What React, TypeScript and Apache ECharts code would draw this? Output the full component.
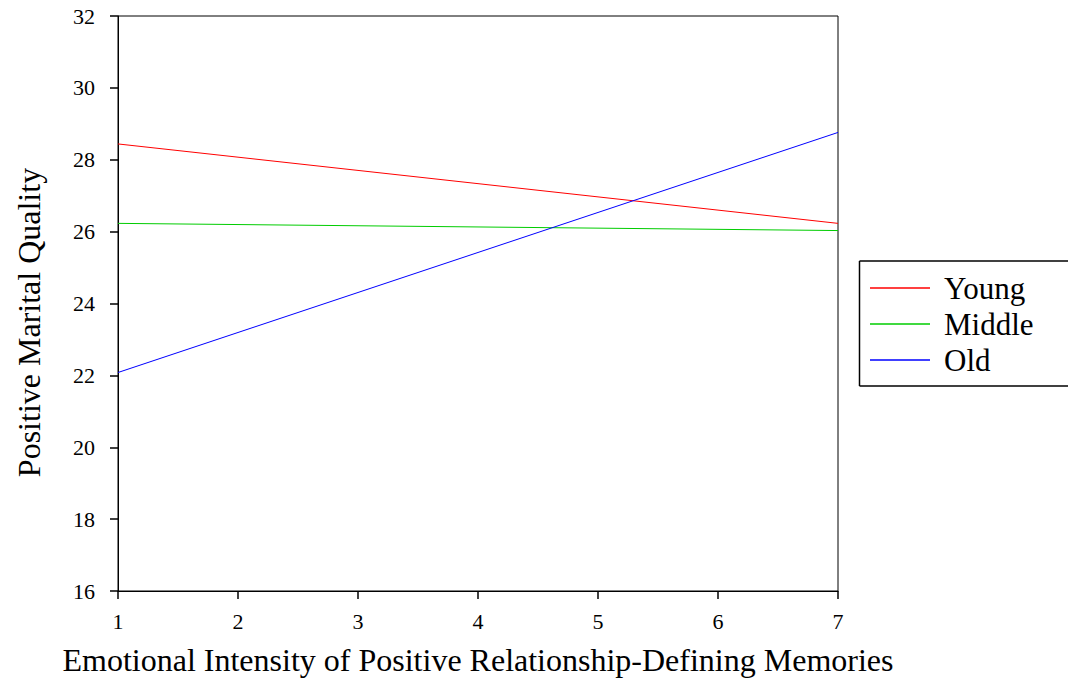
import React, { useEffect, useRef } from "react";
import * as echarts from "echarts";

const xValues = [1, 7];
const seriesNames = ["Young", "Middle", "Old"];
const youngValues = [28.44, 26.23];
const middleValues = [26.23, 26.03];
const oldValues = [22.08, 28.76];
const colors = ["#ff0000", "#00cc00", "#0000ff"];

const FONT = "Liberation Serif";

export default function App() {
  const ref = useRef<HTMLDivElement>(null);
  useEffect(() => {
    if (!ref.current) return;
    const chart = echarts.init(ref.current, undefined, { renderer: "svg" });
    const allValues = [youngValues, middleValues, oldValues];
    chart.setOption({
      animation: false,
      backgroundColor: "#ffffff",
      textStyle: { fontFamily: FONT },
      grid: {
        left: 118,
        right: 230,
        top: 16,
        bottom: 94,
        show: true,
        borderColor: "#000",
        borderWidth: 1,
        backgroundColor: "transparent",
      },
      graphic: [
        {
          type: "line",
          shape: { x1: 859.5, y1: 261, x2: 1090, y2: 261 },
          style: { stroke: "#000", lineWidth: 1.5 },
          silent: true,
        },
        {
          type: "line",
          shape: { x1: 859.5, y1: 386, x2: 1090, y2: 386 },
          style: { stroke: "#000", lineWidth: 1.5 },
          silent: true,
        },
        {
          type: "line",
          shape: { x1: 859.5, y1: 261, x2: 859.5, y2: 386 },
          style: { stroke: "#000", lineWidth: 1.5 },
          silent: true,
        },
      ],
      legend: {
        orient: "vertical",
        left: 859,
        top: 261,
        data: seriesNames,
        icon: "rect",
        itemWidth: 60,
        itemHeight: 1.5,
        itemGap: 0,
        padding: [9, 20, 8, 11],
        borderWidth: 0,
        textStyle: {
          fontFamily: FONT,
          fontSize: 31,
          color: "#000",
          lineHeight: 36,
          padding: [0, 0, 0, 9],
        },
      },
      xAxis: {
        type: "value",
        min: 1,
        max: 7,
        interval: 1,
        name: "Emotional Intensity of Positive Relationship-Defining Memories",
        nameLocation: "middle",
        nameGap: 53,
        nameTextStyle: { fontFamily: FONT, fontSize: 32, color: "#000" },
        axisLine: { show: true, lineStyle: { color: "#000", width: 1 } },
        axisTick: { show: true, length: 8, inside: false, lineStyle: { color: "#000", width: 1.5 } },
        axisLabel: { fontFamily: FONT, fontSize: 22, color: "#000", margin: 19 },
        splitLine: { show: false },
      },
      yAxis: {
        type: "value",
        min: 16,
        max: 32,
        interval: 2,
        name: "Positive Marital Quality",
        nameLocation: "middle",
        nameRotate: 90,
        nameGap: 73,
        nameTextStyle: { fontFamily: FONT, fontSize: 32, color: "#000", padding: [0, 38, 0, 0] },
        axisLine: { show: true, lineStyle: { color: "#000", width: 1 } },
        axisTick: { show: true, length: 8, inside: false, lineStyle: { color: "#000", width: 1.5 } },
        axisLabel: { fontFamily: FONT, fontSize: 22, color: "#000", margin: 23 },
        splitLine: { show: false },
      },
      series: seriesNames.map((name, i) => ({
        name,
        type: "line",
        data: xValues.map((x, j) => [x, allValues[i][j]]),
        symbol: "none",
        lineStyle: { color: colors[i], width: 1 },
        itemStyle: { color: colors[i] },
      })),
    });
    return () => chart.dispose();
  }, []);
  return (
    <div
      ref={ref}
      style={{ position: "fixed", left: 0, top: 0, width: 1068, height: 685 }}
    />
  );
}
